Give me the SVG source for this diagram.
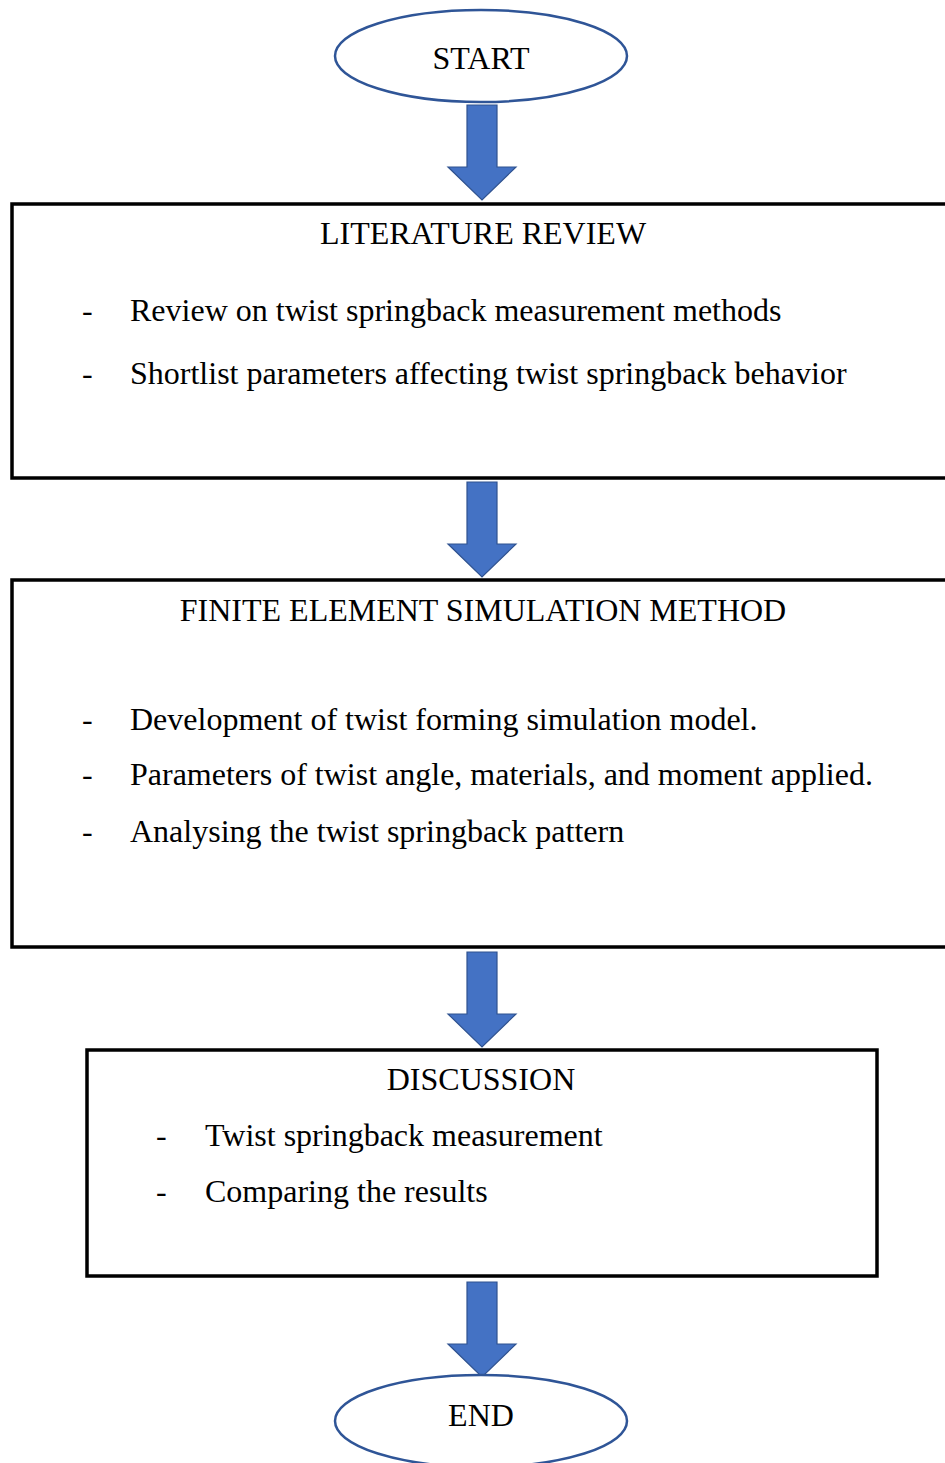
<svg xmlns="http://www.w3.org/2000/svg" width="945" height="1463" viewBox="0 0 945 1463">
<style>
.t{font-family:"Liberation Serif","Times New Roman",serif;font-size:32px;fill:#000}
.c{text-anchor:middle}
.term{fill:#fff;stroke:#2F5597;stroke-width:2.5}
.box{fill:#fff;stroke:#000;stroke-width:3.5}
.arr{fill:#4472C4;stroke:#2F528F;stroke-width:1.2}
</style>
<defs>
<path id="ar" d="M-15,0 H15 V62 H34 L0,95 L-34,62 H-15 Z"/>
</defs>
<rect width="945" height="1463" fill="#fff"/>
<g id="connectors">
<use href="#ar" class="arr" x="482" y="105"/>
<use href="#ar" class="arr" x="482" y="482"/>
<use href="#ar" class="arr" x="482" y="952"/>
<use href="#ar" class="arr" x="482" y="1282"/>
</g>
<g id="start">
<ellipse class="term" cx="481" cy="56" rx="146" ry="46"/>
<text class="t c" x="481" y="69">START</text>
</g>
<g id="literature">
<rect class="box" x="12" y="204" width="940" height="274"/>
<text class="t c" x="483" y="244">LITERATURE REVIEW</text>
<text class="t" x="82" y="321">-</text>
<text class="t" x="130" y="321">Review on twist springback measurement methods</text>
<text class="t" x="82" y="384">-</text>
<text class="t" x="130" y="384">Shortlist parameters affecting twist springback behavior</text>
</g>
<g id="fem">
<rect class="box" x="12" y="580" width="940" height="367"/>
<text class="t c" x="483" y="621">FINITE ELEMENT SIMULATION METHOD</text>
<text class="t" x="82" y="730">-</text>
<text class="t" x="130" y="730">Development of twist forming simulation model.</text>
<text class="t" x="82" y="785">-</text>
<text class="t" x="130" y="785">Parameters of twist angle, materials, and moment applied.</text>
<text class="t" x="82" y="842">-</text>
<text class="t" x="130" y="842">Analysing the twist springback pattern</text>
</g>
<g id="discussion">
<rect class="box" x="87" y="1050" width="790" height="226"/>
<text class="t c" x="481" y="1090">DISCUSSION</text>
<text class="t" x="156" y="1146">-</text>
<text class="t" x="205" y="1146">Twist springback measurement</text>
<text class="t" x="156" y="1202">-</text>
<text class="t" x="205" y="1202">Comparing the results</text>
</g>
<g id="end">
<ellipse class="term" cx="481" cy="1421" rx="146" ry="46"/>
<text class="t c" x="481" y="1426">END</text>
</g>
</svg>
